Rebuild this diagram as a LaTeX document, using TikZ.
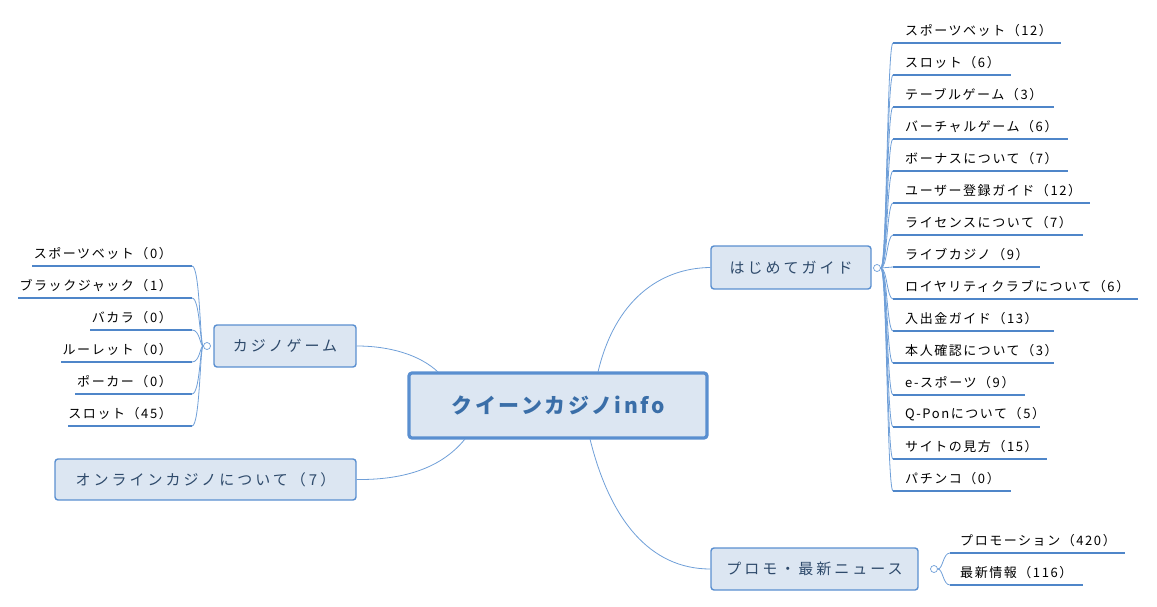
\documentclass[tikz,border=0pt]{standalone}
\usepackage{fontspec}
\setmainfont{Noto Sans CJK JP}[LetterSpace=12]
\begin{document}
\begin{tikzpicture}[x=1pt,y=-1pt,
  ln/.style={draw=lnc,line width=0.8pt},
  ul/.style={draw=ulc,line width=2.2pt},
  hub/.style={draw=bdc,fill=fillc,line width=1.4pt,rounded corners=3pt,inner sep=0pt,font=\fontsize{15}{17}\selectfont\addfontfeature{LetterSpace=20},text=txc},
  item/.style={inner sep=0pt,font=\fontsize{13}{15}\selectfont},
  knob/.style={circle,draw=lnc,fill=white,inner sep=0pt,minimum size=7pt,line width=0.7pt}]
\definecolor{lnc}{HTML}{6F9FD8}
\definecolor{ulc}{HTML}{4F86C9}
\definecolor{bdc}{HTML}{5A8FD0}
\definecolor{fillc}{HTML}{DCE6F2}
\definecolor{txc}{HTML}{2E4A6B}
\definecolor{ctc}{HTML}{3A6EA8}
\useasboundingbox (0,0) rectangle (1157,607);
% center
\node[hub,line width=3.2pt,minimum width=298pt,minimum height=65pt,font=\fontsize{21}{24}\selectfont\bfseries,text=ctc] (c) at (558,405.5) {クイーンカジノinfo};
\node[hub,minimum width=160pt,minimum height=43pt] (h1) at (791,267.5) {はじめてガイド};
\node[hub,minimum width=142pt,minimum height=42pt] (h2) at (285,346) {カジノゲーム};
\node[hub,minimum width=301pt,minimum height=41pt] (h3) at (205.5,479.5) {オンラインカジノについて（7）};
\node[hub,minimum width=207pt,minimum height=42pt] (h4) at (814.5,569) {プロモ・最新ニュース};
% main connectors
\coordinate (c1) at (598,372); \coordinate (c2) at (590,439);
\coordinate (c3) at (438,372); \coordinate (c4) at (465,439);
\draw[ln] (c1) .. controls (615,300) and (660,268) .. (h1.west);
\draw[ln] (c2) .. controls (610,520) and (650,569) .. (h4.west);
\draw[ln] (c3) .. controls (420,355) and (390,346) .. (h2.east);
\draw[ln] (c4) .. controls (440,470) and (400,480) .. (h3.east);
% right list
\node[knob] (k1) at (877,268) {};
\foreach \t/\e [count=\i from 0] in {スポーツベット（12）/1061,スロット（6）/1011,テーブルゲーム（3）/1054,バーチャルゲーム（6）/1068,ボーナスについて（7）/1068,ユーザー登録ガイド（12）/1090,ライセンスについて（7）/1083,ライブカジノ（9）/1040,ロイヤリティクラブについて（6）/1138,入出金ガイド（13）/1054,本人確認について（3）/1054,e-スポーツ（9）/1025,Q-Ponについて（5）/1040,サイトの見方（15）/1047,パチンコ（0）/1011}{
  \pgfmathsetmacro\yy{43+32*\i}
  \coordinate (ra\i) at (893,\yy); \coordinate (rb\i) at (\e,\yy);
  \draw[ln] (k1.east) .. controls (887,268) and (887,\yy) .. (ra\i);
  \draw[ul] (ra\i) -- (rb\i);
  \node[item,anchor=south west] (rt\i) at (905,\yy-6) {\t};
}
% left list
\node[knob] (k2) at (207,346) {};
\foreach \t/\s [count=\i from 0] in {スポーツベット（0）/32,ブラックジャック（1）/18,バカラ（0）/90,ルーレット（0）/61,ポーカー（0）/75,スロット（45）/68}{
  \pgfmathsetmacro\yy{266+32*\i}
  \coordinate (la\i) at (192,\yy); \coordinate (lb\i) at (\s,\yy);
  \draw[ln] (k2.west) .. controls (200,346) and (200,\yy) .. (la\i);
  \draw[ul] (la\i) -- (lb\i);
  \node[item,anchor=south east] (lt\i) at (172,\yy-6) {\t};
}
% promo list
\node[knob] (k3) at (934,569) {};
\foreach \t/\e [count=\i from 0] in {プロモーション（420）/1125,最新情報（116）/1083}{
  \pgfmathsetmacro\yy{553+32*\i}
  \coordinate (pa\i) at (950,\yy); \coordinate (pb\i) at (\e,\yy);
  \draw[ln] (k3.east) .. controls (943,569) and (943,\yy) .. (pa\i);
  \draw[ul] (pa\i) -- (pb\i);
  \node[item,anchor=south west] (pt\i) at (960,\yy-6) {\t};
}
\end{tikzpicture}
\end{document}
